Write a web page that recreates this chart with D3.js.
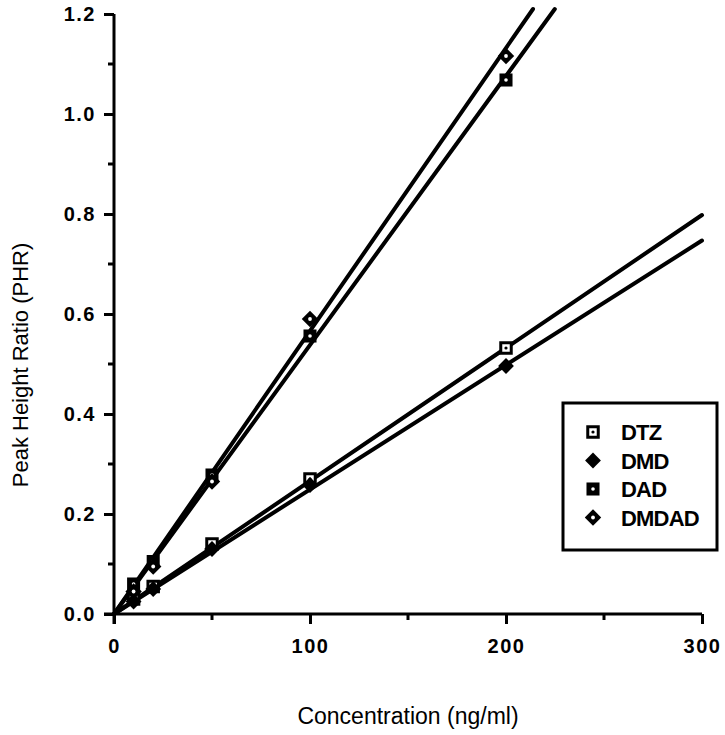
<!DOCTYPE html>
<html>
<head>
<meta charset="utf-8">
<script src="https://cdn.jsdelivr.net/npm/d3@7"></script>
<style>
  body { margin: 0; background: #fff; }
  svg { display: block; font-family: "Liberation Sans", Arial, sans-serif; }
</style>
</head>
<body>
<div id="chart"></div>
<script>
const width = 725;
const height = 735;

// data
const concentrations = [10, 20, 50, 100, 200];
const seriesNames = ["DTZ", "DMD", "DAD", "DMDAD"];
const dtzValues = [0.03, 0.055, 0.14, 0.27, 0.532];
const dmdValues = [0.025, 0.05, 0.13, 0.258, 0.496];
const dadValues = [0.06, 0.105, 0.278, 0.556, 1.068];
const dmdadValues = [0.045, 0.095, 0.265, 0.59, 1.116];
// fitted line slopes (PHR per ng/ml), lines pass through origin
const fitSlopes = [0.00266, 0.00249, 0.00538, 0.00566];
const xTicks = [0, 100, 200, 300];
const yTicks = [0.0, 0.2, 0.4, 0.6, 0.8, 1.0, 1.2];

const allValues = [dtzValues, dmdValues, dadValues, dmdadValues];

const svg = d3
  .select("#chart")
  .append("svg")
  .attr("width", width)
  .attr("height", height);

const xScale = d3.scaleLinear().domain([0, 300]).range([114, 702]);
const yScale = d3.scaleLinear().domain([0, 1.2]).range([614, 14]);

// x axis
const xAxis = d3
  .axisBottom(xScale)
  .tickValues(xTicks)
  .tickFormat(d3.format("d"))
  .tickSizeInner(10)
  .tickSizeOuter(0)
  .tickPadding(15);

const gx = svg
  .append("g")
  .attr("transform", `translate(0, ${yScale(0)})`)
  .call(xAxis);

gx.select(".domain").attr("stroke-width", 3).attr("d", `M104,0H${xScale(300)}`);
gx.selectAll(".tick line").attr("stroke-width", 3);
gx.selectAll(".tick text")
  .attr("font-size", 20)
  .attr("font-weight", "bold")
  .attr("letter-spacing", 1.5)
  .attr("fill", "#000");

// x minor ticks
svg
  .append("g")
  .selectAll("line")
  .data([50, 150, 250])
  .join("line")
  .attr("x1", (d) => xScale(d))
  .attr("x2", (d) => xScale(d))
  .attr("y1", yScale(0))
  .attr("y2", yScale(0) + 6)
  .attr("stroke", "#000")
  .attr("stroke-width", 3);

// y axis
const yAxis = d3
  .axisLeft(yScale)
  .tickValues(yTicks)
  .tickFormat(d3.format(".1f"))
  .tickSizeInner(10)
  .tickSizeOuter(0)
  .tickPadding(8);

const gy = svg
  .append("g")
  .attr("transform", `translate(${xScale(0)}, 0)`)
  .call(yAxis);

gy.select(".domain").attr("stroke-width", 3).attr("d", `M0,${yScale(1.2)}V${yScale(0) + 10}`);
gy.selectAll(".tick line").attr("stroke-width", 3);
gy.selectAll(".tick text")
  .attr("font-size", 20)
  .attr("font-weight", "bold")
  .attr("letter-spacing", 1.5)
  .attr("fill", "#000");

// y minor ticks
svg
  .append("g")
  .selectAll("line")
  .data([0.1, 0.3, 0.5, 0.7, 0.9, 1.1])
  .join("line")
  .attr("x1", xScale(0) - 6)
  .attr("x2", xScale(0))
  .attr("y1", (d) => yScale(d))
  .attr("y2", (d) => yScale(d))
  .attr("stroke", "#000")
  .attr("stroke-width", 3);

// axis titles
svg
  .append("text")
  .attr("x", 408)
  .attr("y", 724)
  .attr("text-anchor", "middle")
  .attr("font-size", 23)
  .text("Concentration (ng/ml)");

svg
  .append("text")
  .attr("transform", "rotate(-90)")
  .attr("x", -365)
  .attr("y", 28)
  .attr("text-anchor", "middle")
  .attr("font-size", 22)
  .text("Peak Height Ratio (PHR)");

// fitted lines
const lineEnd = (slope) => Math.min(300, 1.21 / slope);
svg
  .append("g")
  .selectAll("line")
  .data(fitSlopes)
  .join("line")
  .attr("x1", xScale(0))
  .attr("y1", yScale(0))
  .attr("x2", (d) => xScale(lineEnd(d)))
  .attr("y2", (d) => yScale(d * lineEnd(d)))
  .attr("stroke", "#000")
  .attr("stroke-width", 4)
  .attr("stroke-linecap", "round");

// marker drawing
const diamond = (area) => d3.symbol(d3.symbolSquare, area)();
function drawMarker(g, name) {
  if (name === "DTZ") {
    g.append("path")
      .attr("d", d3.symbol(d3.symbolSquare, 110)())
      .attr("fill", "#fff")
      .attr("stroke", "#000")
      .attr("stroke-width", 3);
    g.append("circle").attr("r", 1.6).attr("fill", "#000");
  } else if (name === "DMD") {
    g.append("path")
      .attr("d", diamond(125))
      .attr("transform", "rotate(45)")
      .attr("fill", "#000");
  } else if (name === "DAD") {
    g.append("path")
      .attr("d", d3.symbol(d3.symbolSquare, 170)())
      .attr("fill", "#000");
    g.append("circle").attr("r", 1.8).attr("fill", "#fff");
  } else {
    g.append("path")
      .attr("d", diamond(135))
      .attr("transform", "rotate(45)")
      .attr("fill", "#000");
    g.append("circle").attr("r", 1.9).attr("fill", "#fff");
  }
}

seriesNames.forEach((name, i) => {
  svg
    .append("g")
    .selectAll("g")
    .data(concentrations.map((c, j) => [c, allValues[i][j]]))
    .join("g")
    .attr("transform", (d) => `translate(${xScale(d[0])}, ${yScale(d[1])})`)
    .each(function () {
      drawMarker(d3.select(this), name);
    });
});

// legend
const legend = svg.append("g");
legend
  .append("rect")
  .attr("x", 563)
  .attr("y", 403)
  .attr("width", 154)
  .attr("height", 147)
  .attr("fill", "#fff")
  .attr("stroke", "#000")
  .attr("stroke-width", 3);

seriesNames.forEach((name, i) => {
  const row = legend.append("g").attr("transform", `translate(593, ${432 + i * 28.5})`);
  drawMarker(row, name);
  row
    .append("text")
    .attr("x", 28)
    .attr("y", 8)
    .attr("font-size", 22)
    .attr("font-weight", "bold")
    .attr("letter-spacing", -0.8)
    .text(name);
});
</script>
</body>
</html>
